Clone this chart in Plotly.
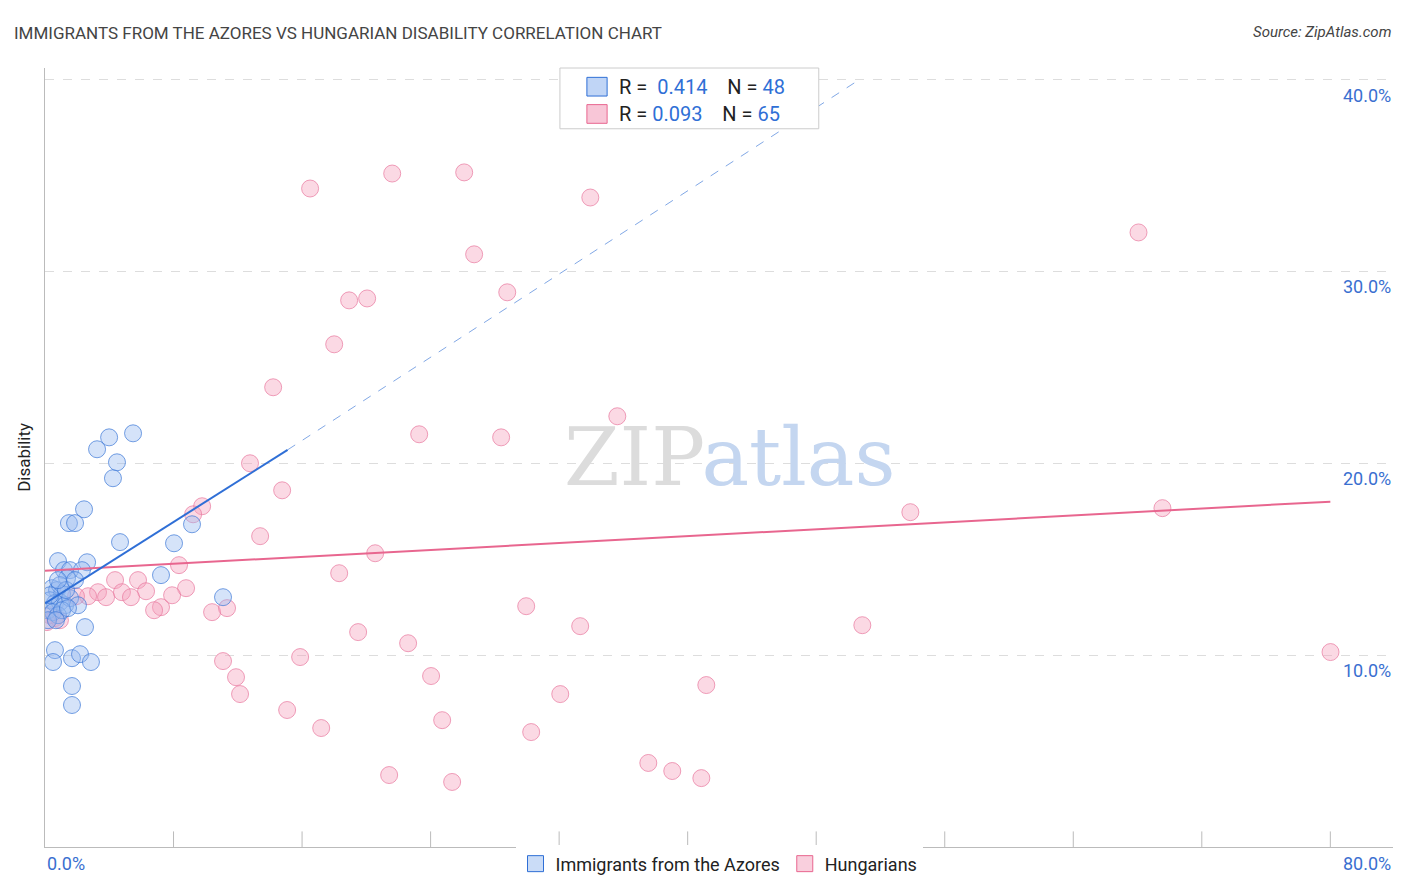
import plotly.graph_objects as go

def cx(p): return (p-45)/16.06
def cy(p): return (847-p)/19.2

blue_px = [(133,433),(109,437),(97,449),(117,462),(113,478),(84,509),(69,523),(75,523),(120,542),(174,543),(192,524),(58,561),(87,562),(64,570),(70,570),(82,570),(67,578),(161,575),(223,597),(52,588),(57,590),(62,594),(50,600),(55,603),(60,602),(65,605),(70,598),(78,605),(48,610),(53,612),(58,615),(48,620),(85,627),(55,650),(53,662),(72,658),(80,654),(91,662),(72,686),(72,705),(60,585),(66,590),(62,610),(56,620),(68,608),(50,595),(75,580),(58,580)]
pink_px = [(310,188),(392,173),(464,172),(590,197),(474,254),(1138,232),(507,292),(349,300),(367,298),(334,344),(273,387),(617,416),(419,434),(501,437),(250,463),(282,490),(202,506),(193,514),(910,512),(1162,508),(260,536),(375,553),(179,565),(339,573),(115,580),(138,580),(186,588),(98,592),(122,592),(146,591),(88,596),(106,597),(131,597),(172,595),(161,607),(154,610),(212,612),(227,608),(76,596),(526,606),(580,626),(862,625),(358,632),(408,643),(1330,652),(223,661),(300,657),(236,677),(431,676),(240,694),(560,694),(706,685),(287,710),(442,720),(321,728),(531,732),(389,775),(452,782),(648,763),(672,771),(701,778),(55,618),(50,615),(60,620),(47,622)]
blue_x = [round(cx(a),2) for a,b in blue_px]; blue_y = [round(cy(b),2) for a,b in blue_px]
pink_x = [round(cx(a),2) for a,b in pink_px]; pink_y = [round(cy(b),2) for a,b in pink_px]

BLUE='#2f6fd6'; PINK='#e8668f'
fig = go.Figure()
fig.add_trace(go.Scatter(x=pink_x, y=pink_y, mode='markers', showlegend=False,
    marker=dict(size=17, color='rgba(244,160,188,0.4)', line=dict(color='rgba(232,120,158,0.7)', width=1))))
fig.add_trace(go.Scatter(x=blue_x, y=blue_y, mode='markers', showlegend=False,
    marker=dict(size=17, color='rgba(150,185,240,0.4)', line=dict(color='rgba(60,120,215,0.7)', width=1))))
fig.add_trace(go.Scatter(x=[None], y=[None], mode='markers', name='Hungarians',
    marker=dict(symbol='square', size=20, color='rgba(244,160,188,0.5)', line=dict(color=PINK, width=1))))
fig.add_trace(go.Scatter(x=[None], y=[None], mode='markers', name='Immigrants from the Azores',
    marker=dict(symbol='square', size=20, color='rgba(150,185,240,0.5)', line=dict(color=BLUE, width=1))))
fig.add_trace(go.Scatter(x=[0,80], y=[14.4,18.0], mode='lines', line=dict(color=PINK, width=2), showlegend=False))
fig.add_trace(go.Scatter(x=[0,15.1], y=[12.7,20.7], mode='lines', line=dict(color=BLUE, width=2), showlegend=False))
fig.add_trace(go.Scatter(x=[15.1,50.7], y=[20.7,40], mode='lines', line=dict(color=BLUE, width=1, dash='dash'), opacity=0.6, showlegend=False))

ann = []
for v in [10,20,30,40]:
    ann.append(dict(x=1, xref='paper', y=v, yref='y', text=f'{v:.1f}%', showarrow=False, xanchor='right', yanchor='top', yshift=-3,
                    font=dict(size=18, color='#3a6fd0')))
ann += [dict(x=0, xref='paper', y=-0.005, yref='paper', text='0.0%', showarrow=False, xanchor='left', yanchor='top', font=dict(size=18, color='#3a6fd0')),
        dict(x=1, xref='paper', y=-0.005, yref='paper', text='80.0%', showarrow=False, xanchor='right', yanchor='top', font=dict(size=18, color='#3a6fd0')),
        dict(x=-0.0245, xref='paper', y=1.06, yref='paper', text='IMMIGRANTS FROM THE AZORES VS HUNGARIAN DISABILITY CORRELATION CHART', showarrow=False, xanchor='left', font=dict(size=17, color='#444')),
        dict(x=1, xref='paper', y=1.06, yref='paper', text='<i>Source: ZipAtlas.com</i>', showarrow=False, xanchor='right', font=dict(size=15, color='#444')),
        dict(x=0.508, xref='paper', y=0.5, yref='paper', text='<span style="color:#dcdcdc">ZIP</span><span style="color:#c4d6f0">atlas</span>', showarrow=False,
             font=dict(size=80, family='DejaVu Serif')),
        dict(x=0.424, xref='paper', y=0.994, yref='paper', text='R =  <span style="color:#2f6fd6">0.414</span>    N = <span style="color:#2f6fd6">48</span>', showarrow=False, xanchor='left', font=dict(size=20, color='#222')),
        dict(x=0.424, xref='paper', y=0.959, yref='paper', text='R = <span style="color:#2f6fd6">0.093</span>    N = <span style="color:#2f6fd6">65</span>', showarrow=False, xanchor='left', font=dict(size=20, color='#222')),
        dict(x=-0.025, xref='paper', y=0.5, yref='paper', text='Disability', textangle=-90, showarrow=False, font=dict(size=17, color='#222')),
        ]
shapes = [dict(type='rect', xref='paper', yref='paper', x0=0.382, x1=0.574, y0=0.922, y1=1.0, line=dict(color='#ccc', width=1), fillcolor='white'),
          dict(type='rect', xref='paper', yref='paper', x0=0.402, x1=0.417, y0=0.964, y1=0.988, line=dict(color=BLUE, width=1), fillcolor='rgba(150,185,240,0.6)'),
          dict(type='rect', xref='paper', yref='paper', x0=0.402, x1=0.417, y0=0.929, y1=0.953, line=dict(color=PINK, width=1), fillcolor='rgba(244,160,188,0.6)')]
for i in range(1,11):
    shapes.append(dict(type='line', x0=8*i, x1=8*i, yref='paper', y0=0, y1=0.02, line=dict(color='#bbb', width=1)))

fig.update_layout(width=1398, height=884, plot_bgcolor='white', paper_bgcolor='white',
    margin=dict(l=37, r=13, t=60, b=45, autoexpand=False), font=dict(family='Roboto'),
    xaxis=dict(range=[0,83.9], showgrid=False, zeroline=False, showticklabels=False, showline=True, linecolor='#bbb'),
    yaxis=dict(range=[0,40.6], tickvals=[10,20,30,40], showticklabels=False, gridcolor='#ddd', griddash='dash', zeroline=False, showline=True, linecolor='#bbb'),
    legend=dict(orientation='h', x=0.5, xanchor='center', y=0.002, yanchor='top', font=dict(size=18, color='#222'), traceorder='reversed'),
    annotations=ann, shapes=shapes)
fig.write_html('out.html')
